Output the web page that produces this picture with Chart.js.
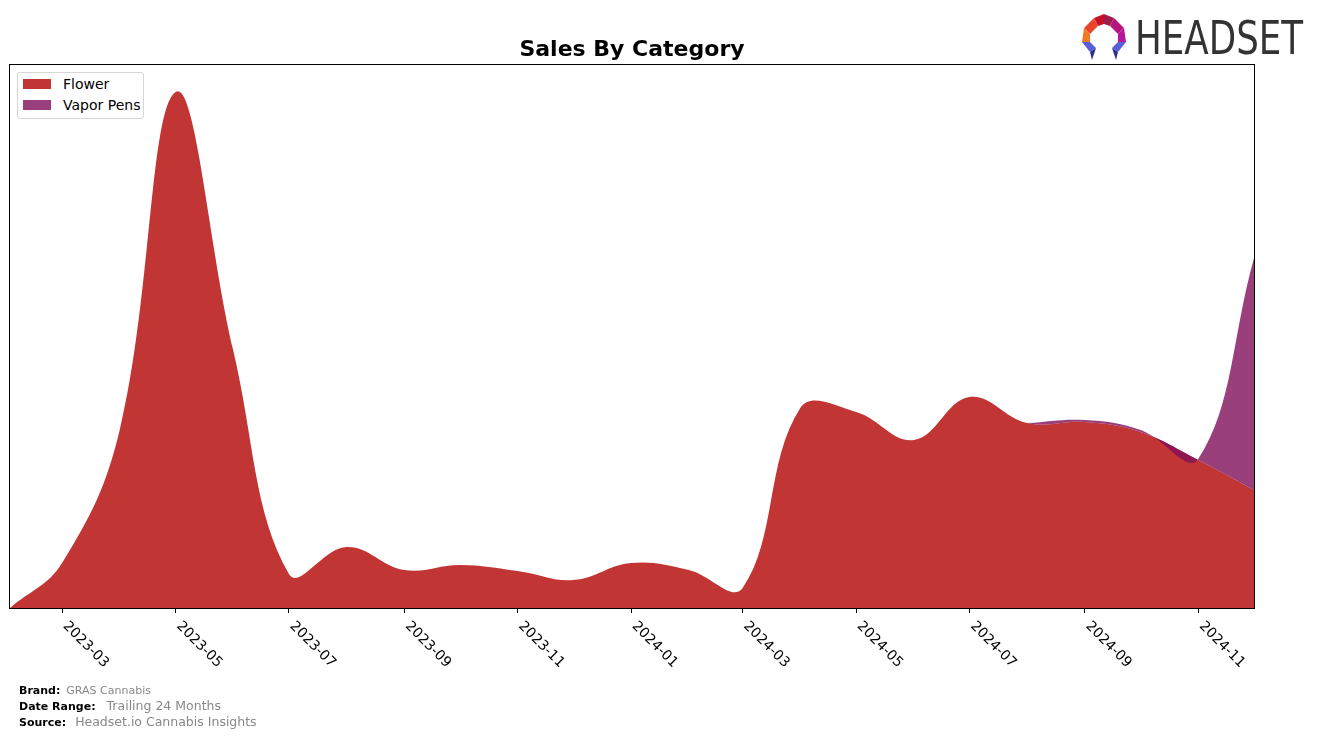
<!DOCTYPE html>
<html>
<head>
<meta charset="utf-8">
<script src="https://cdn.jsdelivr.net/npm/chart.js@4.4.1/dist/chart.umd.min.js"></script>
<style>
  body { margin: 0; background: #fff; font-family: "DejaVu Sans", sans-serif; }
  #wrap { position: relative; width: 1318px; height: 738px; overflow: hidden; }
  #title { position: absolute; left: 0; width: 1264px; top: 36px; text-align: center; font-weight: bold; font-size: 22px; color: #000; }
  #legend { position: absolute; left: 17px; top: 72px; width: 125px; height: 45px; border: 1px solid #d6d6d6; border-radius: 3px; background: #fff; font-size: 14px; }
  .item { position: absolute; left: 5px; height: 20px; line-height: 20px; }
  .sw { display: inline-block; width: 28px; height: 10px; vertical-align: middle; margin-right: 12px; margin-top: -3px; }
  #foot { position: absolute; left: 19px; top: 683px; font-size: 11px; line-height: 15px; }
  #foot b { color: #000; margin-right: 6px; }
  #foot span { color: #888; }
  #logo { position: absolute; left: 1078px; top: 12px; }
  #logotext { position: absolute; left: 1135px; top: 13px; font-family: "DejaVu Sans Condensed", "Liberation Sans Narrow", sans-serif; font-size: 46px; line-height: 50px; color: #333; transform-origin: 0 0; white-space: nowrap; }
</style>
</head>
<body>
<div id="wrap">
  <canvas id="salesChart" width="1318" height="738"></canvas>
  <div id="title">Sales By Category</div>
  <div id="legend">
    <div class="item" style="top:1px"><span class="sw" style="background:#c13534"></span>Flower</div>
    <div class="item" style="top:22px"><span class="sw" style="background:#993f7c"></span>Vapor Pens</div>
  </div>
  <div id="foot">
    <div><b>Brand:</b><span>GRAS Cannabis</span></div>
    <div><b>Date Range:</b><span style="font-size:12.5px;margin-left:5px">Trailing 24 Months</span></div>
    <div><b>Source:</b><span style="font-size:12.5px;margin-left:3px">Headset.io Cannabis Insights</span></div>
  </div>
  <svg id="logo" width="52" height="50" viewBox="0 0 52 50">
    <polygon points="16,6 26,2 26,12 20,14" fill="#c8102e"/>
    <polygon points="26,2 36,6 32,14 26,12" fill="#9e1d4a"/>
    <polygon points="36,6 46,16 40,22 32,14" fill="#b5157f"/>
    <polygon points="6,16 16,6 20,14 12,22" fill="#e8452c"/>
    <polygon points="4,30 6,16 12,22 12,30" fill="#f07a22"/>
    <polygon points="46,16 48,30 40,30 40,22" fill="#b6179a"/>
    <polygon points="4,30 12,30 18,36 12,40" fill="#5b5fd6"/>
    <polygon points="12,40 18,36 14,48" fill="#2e2f8f"/>
    <polygon points="48,30 40,30 34,36 40,40" fill="#5b5fd6"/>
    <polygon points="40,40 34,36 38,48" fill="#2e2f8f"/>
  </svg>
  <div id="logotext">HEADSET</div>
</div>
<script>
// monthly data, 2023-02 .. 2024-12
const months = ['2023-02','2023-03','2023-04','2023-05','2023-06','2023-07','2023-08','2023-09','2023-10','2023-11','2023-12',
                '2024-01','2024-02','2024-03','2024-04','2024-05','2024-06','2024-07','2024-08','2024-09','2024-10','2024-11','2024-12'];
const flowerSales = [0, 45, 178, 516, 258, 34, 61, 38, 43, 37, 28, 45, 38, 20, 200, 196, 168, 211, 185, 186, 176, 148, 118];
const vaporSales = [null, null, null, null, null, null, null, null, null, null, null,
                    null, null, null, null, null, null, null, 0, 2, 2, 1, 232];
const tickMonths = ['2023-03','2023-05','2023-07','2023-09','2023-11','2024-01','2024-03','2024-05','2024-07','2024-09','2024-11'];

// days since 2023-02-01
function dayOf(m) {
  const p = m.split('-');
  return (Date.UTC(+p[0], +p[1] - 1, 1) - Date.UTC(2023, 1, 1)) / 864e5;
}

const flowerPts = months.map((m, i) => ({ x: dayOf(m), y: flowerSales[i] }));
// vapor pens sit on top of flower
const vaporPts = months.map((m, i) => ({ x: dayOf(m), y: vaporSales[i] === null ? null : flowerSales[i] + vaporSales[i] }));

// squeeze the logo word into its box
const lt = document.getElementById('logotext');
lt.style.transform = 'scaleX(' + (168 / lt.offsetWidth) + ')';

const framePlugin = {
  id: 'frame',
  afterDraw(chart) {
    const ctx = chart.ctx, a = chart.chartArea, xs = chart.scales.x;
    ctx.save();
    ctx.strokeStyle = '#000';
    ctx.lineWidth = 1;
    ctx.strokeRect(a.left - 0.5, a.top - 0.5, a.right - a.left + 1, a.bottom - a.top + 1);
    ctx.fillStyle = '#000';
    ctx.font = '14px "DejaVu Sans"';
    ctx.textAlign = 'left';
    ctx.textBaseline = 'middle';
    tickMonths.forEach(m => {
      const px = xs.getPixelForValue(dayOf(m));
      ctx.save();
      ctx.translate(px + 3, a.bottom + 16);
      ctx.rotate(Math.PI / 4);
      ctx.fillText(m, 0, 0);
      ctx.restore();
    });
    ctx.restore();
  }
};

new Chart(document.getElementById('salesChart'), {
  type: 'line',
  data: {
    datasets: [{
      label: 'Flower',
      data: flowerPts,
      backgroundColor: '#c13534',
      borderWidth: 0,
      pointRadius: 0,
      tension: 0.4,
      fill: 'origin',
      order: 1
    }, {
      label: 'Vapor Pens',
      data: vaporPts,
      backgroundColor: 'rgba(127,15,91,0.8)',
      borderWidth: 0,
      pointRadius: 0,
      tension: 0.4,
      fill: '-1',
      order: 0
    }]
  },
  options: {
    responsive: false,
    animation: false,
    layout: { padding: { left: 10, right: 64, top: 65, bottom: 125 } },
    plugins: { legend: { display: false }, tooltip: { enabled: false }, title: { display: false } },
    scales: {
      x: {
        type: 'linear',
        min: 0,
        max: dayOf('2024-12'),
        afterBuildTicks: (s) => { s.ticks = tickMonths.map(m => ({ value: dayOf(m) })); },
        ticks: { display: false },
        grid: { drawOnChartArea: false, drawTicks: true, tickLength: 5, color: '#000' },
        border: { display: true, color: '#000' }
      },
      y: {
        display: false,
        min: 0,
        max: 543
      }
    }
  },
  plugins: [framePlugin]
});
</script>
</body>
</html>
